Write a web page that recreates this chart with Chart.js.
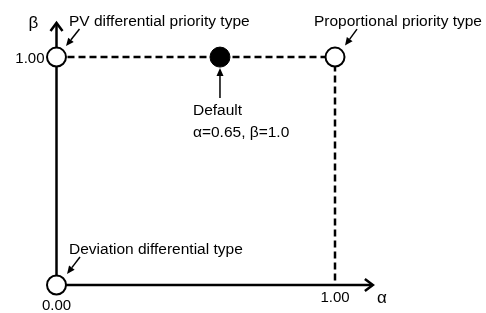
<!DOCTYPE html>
<html>
<head>
<meta charset="utf-8">
<script src="https://cdn.jsdelivr.net/npm/chart.js@4/dist/chart.umd.min.js"></script>
<style>
html,body{margin:0;padding:0;background:#fff;}
#wrap{width:486px;height:313px;position:relative;}
</style>
</head>
<body>
<div id="wrap"><canvas id="c" width="486" height="313"></canvas></div>
<script>
// ---- data ----
const axisNames = ['α', 'β'];
const xTickValues = [0, 1];
const xTickLabels = ['0.00', '1.00'];
const yTickValues = [1];
const yTickLabels = ['1.00'];
const boundaryX = [0, 1, 1];
const boundaryY = [1, 1, 0];
const openPointX = [0, 1, 0];
const openPointY = [1, 1, 0];
const defaultPointX = [0.587];
const defaultPointY = [1];
const annotationTexts = [
  ['PV differential priority type'],
  ['Proportional priority type'],
  ['Deviation differential type'],
  ['Default', 'α=0.65, β=1.0']
];
const annotationX = [0, 1, 0, 0.587];
const annotationY = [1, 1, 0, 1];

// ---- layout / style (not data) ----
const FONT = '"Liberation Sans", Arial, sans-serif';
const annStyle = [
  {tx: 12.5, ty: -35, align: 'left', a0: [23, -28], a1: [9.5, -11]},
  {tx: -21, ty: -35, align: 'left', a0: [22, -28], a1: [10, -11.5]},
  {tx: 12.5, ty: -35, align: 'left', a0: [23.5, -28], a1: [10.5, -11]},
  {tx: -27, ty: 53.5, align: 'left', a0: [0, 41], a1: [0, 11], lineGap: 22}
];

function xy(xs, ys) { return xs.map((v, i) => ({x: v, y: ys[i]})); }

function arrowFilled(ctx, x0, y0, x1, y1) {
  const ang = Math.atan2(y1 - y0, x1 - x0);
  const L = 8, W = 3.5;
  const bx = x1 - L * Math.cos(ang), by = y1 - L * Math.sin(ang);
  ctx.beginPath();
  ctx.moveTo(x0, y0); ctx.lineTo(bx, by);
  ctx.lineWidth = 1.5; ctx.strokeStyle = '#000'; ctx.stroke();
  ctx.beginPath();
  ctx.moveTo(x1, y1);
  ctx.lineTo(bx + W * Math.sin(ang), by - W * Math.cos(ang));
  ctx.lineTo(bx - W * Math.sin(ang), by + W * Math.cos(ang));
  ctx.closePath(); ctx.fillStyle = '#000'; ctx.fill();
}

function chevron(ctx, x1, y1, ang) {
  const L = 8, W = 6;
  const bx = x1 - L * Math.cos(ang), by = y1 - L * Math.sin(ang);
  ctx.beginPath();
  ctx.moveTo(bx + W * Math.sin(ang), by - W * Math.cos(ang));
  ctx.lineTo(x1, y1);
  ctx.lineTo(bx - W * Math.sin(ang), by + W * Math.cos(ang));
  ctx.lineWidth = 2.5; ctx.lineJoin = 'miter'; ctx.strokeStyle = '#000'; ctx.stroke();
}

const axesPlugin = {
  id: 'axesPlugin',
  beforeDatasetsDraw(chart) {
    const {ctx, scales: {x, y}} = chart;
    const ox = x.getPixelForValue(0), oy = y.getPixelForValue(0);
    const xe = x.getPixelForValue(1.136), ye = y.getPixelForValue(1.15);
    ctx.save();
    ctx.strokeStyle = '#000'; ctx.lineWidth = 2.5; ctx.lineCap = 'butt';
    ctx.beginPath(); ctx.moveTo(ox, oy); ctx.lineTo(xe - 1, oy); ctx.stroke();
    ctx.beginPath(); ctx.moveTo(ox, oy); ctx.lineTo(ox, ye + 1); ctx.stroke();
    chevron(ctx, xe, oy, 0);
    chevron(ctx, ox, ye, -Math.PI / 2);
    ctx.restore();
  },
  afterDatasetsDraw(chart) {
    const {ctx, scales: {x, y}} = chart;
    const ox = x.getPixelForValue(0), oy = y.getPixelForValue(0);
    ctx.save();
    ctx.fillStyle = '#000';
    ctx.font = '15px ' + FONT;
    ctx.textBaseline = 'middle';
    // x tick labels
    ctx.textAlign = 'center';
    xTickValues.forEach((v, i) => {
      const px = x.getPixelForValue(v);
      ctx.fillText(xTickLabels[i], px, oy + (v === 0 ? 21 : 13));
    });
    // y tick labels
    ctx.textAlign = 'right';
    yTickValues.forEach((v, i) => {
      ctx.fillText(yTickLabels[i], ox - 12, y.getPixelForValue(v) + 1.5);
    });
    // axis names
    ctx.font = '17px ' + FONT;
    ctx.textAlign = 'center';
    ctx.fillText(axisNames[0], x.getPixelForValue(1.136) + 9, oy + 13);
    ctx.fillText(axisNames[1], ox - 23, y.getPixelForValue(1.15) + 0);
    // annotations
    ctx.font = '15.5px ' + FONT;
    annotationTexts.forEach((lines, i) => {
      const st = annStyle[i];
      const px = x.getPixelForValue(annotationX[i]);
      const py = y.getPixelForValue(annotationY[i]);
      ctx.textAlign = st.align;
      lines.forEach((t, j) => {
        ctx.fillText(t, px + st.tx, py + st.ty + j * (st.lineGap || 0));
      });
      arrowFilled(ctx, px + st.a0[0], py + st.a0[1], px + st.a1[0], py + st.a1[1]);
    });
    ctx.restore();
  }
};

new Chart(document.getElementById('c'), {
  type: 'scatter',
  data: {
    datasets: [
      {
        data: xy(boundaryX, boundaryY),
        showLine: true,
        borderColor: '#000',
        borderWidth: 2.5,
        borderDash: [7, 4],
        pointRadius: 0,
        clip: false,
        order: 3
      },
      {
        data: xy(openPointX, openPointY),
        pointRadius: 9.5,
        pointBackgroundColor: '#fff',
        pointBorderColor: '#000',
        pointBorderWidth: 2,
        clip: false,
        order: 2
      },
      {
        data: xy(defaultPointX, defaultPointY),
        pointRadius: 10,
        pointBackgroundColor: '#000',
        pointBorderColor: '#000',
        pointBorderWidth: 1,
        clip: false,
        order: 1
      }
    ]
  },
  options: {
    responsive: false,
    animation: false,
    devicePixelRatio: 1,
    layout: {padding: {left: 56.5, right: 95.3, top: 8.4, bottom: 28}},
    plugins: {legend: {display: false}, tooltip: {enabled: false}},
    scales: {
      x: {type: 'linear', min: 0, max: 1.2, display: false},
      y: {type: 'linear', min: 0, max: 1.2, display: false}
    }
  },
  plugins: [axesPlugin]
});
</script>
</body>
</html>
